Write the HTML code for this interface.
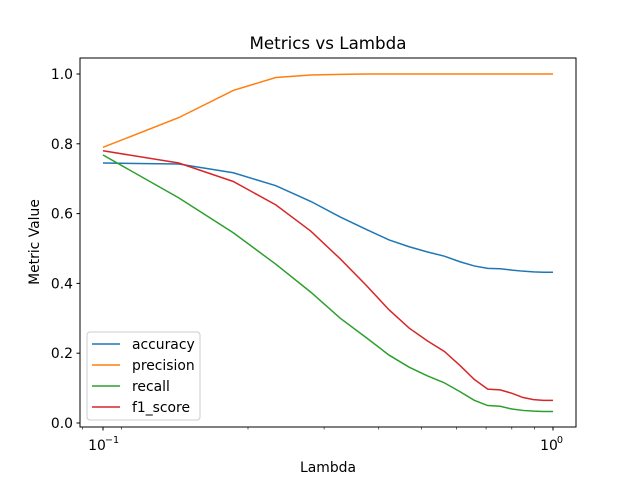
<!DOCTYPE html>
<html><head><meta charset="utf-8"><style>
body{margin:0;background:#fff;}
svg{font-family:"DejaVu Sans","Liberation Sans",sans-serif;}
</style></head><body>
<svg id="chart" width="640" height="480" xmlns="http://www.w3.org/2000/svg">
<rect width="640" height="480" fill="#fff"/>
<text x="328" y="49" font-size="16.7" text-anchor="middle">Metrics vs Lambda</text>
<text x="328" y="472" font-size="13.9" text-anchor="middle">Lambda</text>
<text x="39" y="242" font-size="13.9" text-anchor="middle" transform="rotate(-90 39 242)">Metric Value</text>
<g id="ticks"></g>
<g id="lines"></g>
<rect x="80" y="58" width="496" height="369" fill="none" stroke="#000" stroke-width="1"/>
<g>
<rect x="87" y="332" width="113" height="88" rx="3" fill="#fff" fill-opacity="0.8" stroke="#ccc"/>
<g id="legend-entries"></g>
</g>
</svg>
<script>
const lambdas=[];for(let i=0;i<20;i++)lambdas.push(0.1+i*0.9/19);
const accuracy=[0.745,0.742,0.717,0.68,0.635,0.59,0.555,0.525,0.505,0.49,0.478,0.462,0.45,0.443,0.442,0.438,0.435,0.433,0.432,0.432];
const precision=[0.79,0.875,0.953,0.99,0.997,0.999,1,1,1,1,1,1,1,1,1,1,1,1,1,1];
const recall=[0.768,0.645,0.545,0.455,0.375,0.30,0.245,0.195,0.16,0.135,0.115,0.09,0.065,0.05,0.048,0.04,0.036,0.034,0.033,0.033];
const f1=[0.78,0.745,0.692,0.625,0.55,0.47,0.395,0.325,0.272,0.235,0.205,0.165,0.125,0.097,0.095,0.085,0.073,0.067,0.065,0.065];
const yTicks=[0,0.2,0.4,0.6,0.8,1.0];
const names=['accuracy','precision','recall','f1_score'];
const colors=['#1f77b4','#ff7f0e','#2ca02c','#d62728'];
const NS='http://www.w3.org/2000/svg';
const xs=v=>103+450*Math.log10(v/0.1);
const ys=v=>423-349*v;
const tg=document.getElementById('ticks'),lg=document.getElementById('lines'),le=document.getElementById('legend-entries');
function mk(t,a,p){const e=document.createElementNS(NS,t);for(const k in a)e.setAttribute(k,a[k]);p.appendChild(e);return e;}
yTicks.forEach(v=>{const y=ys(v);
 const l=mk('line',{x1:76.5,x2:80,y1:y,y2:y,stroke:'#000'},tg);
 
 
 const t=mk('text',{x:73,y:y+5,'font-size':13.9,'text-anchor':'end'},tg);t.textContent=v.toFixed(1);
 
 });
for(let m=0.09;m<1.0;m+= (m<0.1?0.01:0.1)){const v=Math.round(m*100)/100;if(v===0.1)continue;const x=xs(v);
 const l=mk('line',{x1:x,x2:x,y1:427,y2:429.5,stroke:'#000','stroke-width':0.6},tg);
 
 }
[[0.1,'10','−1'],[1,'10','0']].forEach(([v,b,e])=>{const x=xs(v);
 const l=mk('line',{x1:x,x2:x,y1:427,y2:430.5,stroke:'#000'},tg);
 
 
 const t=mk('text',{x:x-(e.length>1?6:4),y:450,'font-size':13.9,'text-anchor':'middle'},tg);t.textContent=b;
 
 
 const s=mk('text',{x:x+(e.length>1?9:7),y:443,'font-size':9.7,'text-anchor':'middle'},tg);s.textContent=e;
 
 });
[accuracy,precision,recall,f1].forEach((s,i)=>{
 const p=mk('polyline',{points:s.map((v,j)=>xs(lambdas[j])+','+ys(v)).join(' '),fill:'none',stroke:colors[i],'stroke-width':1.5},lg);
 
 
 const y=344+i*21;
 const l=mk('line',{x1:92,x2:120,y1:y,y2:y,stroke:colors[i],'stroke-width':1.5},le);
 
 
 const t=mk('text',{x:132,y:y+5,'font-size':13.9},le);t.textContent=names[i];
 
 });
</script>
</body></html>
